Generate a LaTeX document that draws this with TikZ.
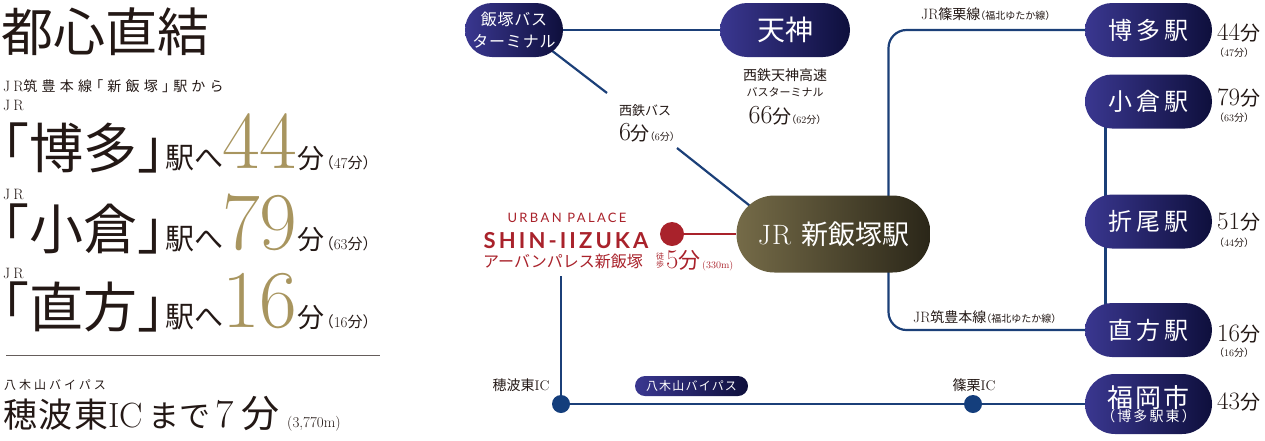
\documentclass[tikz,border=0pt]{standalone}
\usepackage{fontspec}
\newfontfamily\jp[RawFeature=+halt]{Noto Sans CJK JP}
\newfontfamily\sansf{Lato}
\usetikzlibrary{backgrounds,calc}
\newcommand\fsz[1]{\fontsize{#1}{#1}\selectfont}
\newcommand\ls[1]{\addfontfeature{LetterSpace=#1}}
\definecolor{ink}{HTML}{231815}
\definecolor{goldc}{HTML}{A8955F}
\definecolor{nvL}{HTML}{3A3790}
\definecolor{nvR}{HTML}{0E0F3C}
\definecolor{jrL}{HTML}{756B48}
\definecolor{jrR}{HTML}{2A2618}
\definecolor{lineb}{HTML}{1B3F78}
\definecolor{redc}{HTML}{A9222B}
\definecolor{dotb}{HTML}{143E7C}
\tikzset{
  tx/.style={anchor=base west, inner sep=0, text=ink},
  tb/.style={anchor=base, inner sep=0, text=ink},
  navy/.style={draw=none, rounded corners=27pt, left color=nvL, right color=nvR, text=white,
    inner sep=0, minimum height=54pt, minimum width=127pt, align=center, font=\jp},
  jrst/.style={draw=none, rounded corners=38pt, left color=jrL, right color=jrR, text=white,
    inner sep=0, minimum height=77pt, minimum width=194pt},
  bl/.style={draw=lineb, line width=2.2pt},
  dot/.style={circle, fill=dotb, inner sep=0, minimum size=18pt},
  rd/.style={inner sep=0, text=redc}
}
\begin{document}
\begin{tikzpicture}[x=1pt,y=-1pt]
\useasboundingbox (0,0) rectangle (1265,440);

% ---------- left panel ----------
\node[tx] (title) at (1,51) {\jp\fsz{52}都心直結};
\node[tx] (sub) at (3,91) {{\fsz{15}J\kern3pt R}\jp\fsz{14}\ls{30}筑豊本線「新飯塚」駅から};

\node[tx] (jra) at (3,110) {\fsz{15}J\kern3pt R};
\node[tx] (ha) at (2,168) {\jp\fsz{54}「博多」};
\node[tx] (hb) at ([xshift=1pt]ha.base east) {\jp\fsz{29}駅へ};
\node[tx,text=goldc] (hc) at (222,168) {\fsz{82}44};
\node[tx] (hd) at (hc.base east) {\jp\fsz{27}分};
\node[tx] (he) at ([xshift=1pt]hd.base east) {\jp\fsz{15}（{\rmfamily 47}分）};

\node[tx] (jrb) at (3,199) {\fsz{15}J\kern3pt R};
\node[tx] (ka) at (2,249) {\jp\fsz{54}「小倉」};
\node[tx] (kb) at ([xshift=1pt]ka.base east) {\jp\fsz{29}駅へ};
\node[tx,text=goldc] (kc) at (222,249) {\fsz{82}79};
\node[tx] (kd) at (kc.base east) {\jp\fsz{27}分};
\node[tx] (ke) at ([xshift=1pt]kd.base east) {\jp\fsz{15}（{\rmfamily 63}分）};

\node[tx] (jrc) at (3,278) {\fsz{15}J\kern3pt R};
\node[tx] (na) at (2,327) {\jp\fsz{54}「直方」};
\node[tx] (nb) at ([xshift=1pt]na.base east) {\jp\fsz{29}駅へ};
\node[tx,text=goldc] (nc) at (222,327) {\fsz{82}16};
\node[tx] (nd) at (nc.base east) {\jp\fsz{27}分};
\node[tx] (ne) at ([xshift=1pt]nd.base east) {\jp\fsz{15}（{\rmfamily 16}分）};

\draw[draw=ink!70, line width=0.8pt] (6,355) -- (380,355);

\node[tx] (yb) at (4,389) {\jp\fsz{12}\ls{25}八木山バイパス};
\node[tx] (ica) at (3,427) {\jp\fsz{34}\ls{5}穂波東};
\node[tx] (icb) at (108,427) {\fsz{35}IC};
\node[tx] (icc) at (148,427) {\jp\fsz{31}まで};
\node[tx] (icd) at (215,427) {\fsz{40}7};
\node[tx] (ice) at (241,427) {\jp\fsz{38}分};
\node[tx] (icf) at (287,427) {\fsz{15}\ls{15}(3,770m)};

% ---------- diagram nodes ----------
\node[navy, minimum width=98pt, font=\jp\fontsize{16}{22}\selectfont] (ikb) at (514,30) {\ls{5}飯塚バス\\\ls{5}ターミナル};
\node[navy, minimum width=130pt] (tenjin) at (785,30) {\fsz{28}天神};

\node[jrst] (jr) at (833.5,234) {{\fsz{28}J\kern1pt R}\hspace{10pt}{\jp\fsz{27}新飯塚駅}};

\node[navy] (hakata) at (1148.5,30) {\fsz{24}\ls{15}博多駅};
\node[navy] (kokura) at (1148.5,101.5) {\fsz{24}\ls{15}小倉駅};
\node[navy] (orio) at (1148.5,221.5) {\fsz{24}\ls{15}折尾駅};
\node[navy] (nogata) at (1148.5,330) {\fsz{24}\ls{15}直方駅};
\node[navy, minimum height=60pt, rounded corners=30pt] (fuk) at (1148.5,404) {\fontsize{26}{26}\selectfont\ls{8}福岡市\\[-1pt]\fsz{14}\ls{15}（博多駅東）};

% times right
\node[tx] (t1) at (1217,40) {\fsz{25}44\jp\fsz{20}分};
\node[tx] (t1s) at (1219,56) {\jp\fsz{10}（{\rmfamily 47}分）};
\node[tx] (t2) at (1217,105) {\fsz{25}79\jp\fsz{20}分};
\node[tx] (t2s) at (1219,121) {\jp\fsz{10}（{\rmfamily 63}分）};
\node[tx] (t3) at (1217,229) {\fsz{25}51\jp\fsz{20}分};
\node[tx] (t3s) at (1219,246) {\jp\fsz{10}（{\rmfamily 44}分）};
\node[tx] (t4) at (1217,341) {\fsz{25}16\jp\fsz{20}分};
\node[tx] (t4s) at (1219,356) {\jp\fsz{10}（{\rmfamily 16}分）};
\node[tx] (t5) at (1217,409) {\fsz{25}43\jp\fsz{20}分};

% bus labels
\node[tb] (sba) at (645,115) {\jp\fsz{13}西鉄バス};
\node[tb] (sbb) at (647,140) {{\fsz{26}6}{\jp\fsz{19}分}{\jp\fsz{10}（{\rmfamily 6}分）}};
\node[tb] (tja) at (785,80) {\jp\fsz{14}西鉄天神高速};
\node[tb] (tjb) at (785,96) {\jp\fsz{11}バスターミナル};
\node[tb] (tjc) at (785,123) {{\fsz{26}66}{\jp\fsz{19}分}{\jp\fsz{10}（{\rmfamily 62}分）}};

% property
\node[rd, anchor=base] (upa) at (567,222) {\sansf\fsz{13}\ls{18}URBAN PALACE};
\node[rd, anchor=base] (upb) at (566,248) {\sansf\bfseries\fsz{22}\ls{14}SHIN-IIZUKA};
\node[rd, anchor=base west] (upc) at (483,267) {\jp\fsz{16}アーバンパレス新飯塚};
\node[rd] (upd) at (660,256) {\jp\fsz{8}徒};
\node[rd] (upe) at (660,264) {\jp\fsz{8}歩};
\node[rd, anchor=base west] (upf) at (666,268) {{\fsz{27}5}{\jp\fsz{22}分}};
\node[rd, anchor=base west] (upg) at (702,268) {\fsz{10}(330m)};
\node[circle, fill=redc, inner sep=0, minimum size=24pt] (rc) at (672,234) {};

% road
\coordinate (ap) at (561,276);
\node[dot] (hob) at (561,404) {};
\node[dot] (sasa) at (973,404) {};
\node[tb] (hobl) at (521,390) {\jp\fsz{14}穂波東{\rmfamily IC}};
\node[tb] (sasal) at (974,390) {\jp\fsz{14}篠栗{\rmfamily IC}};
\node[navy, minimum width=113pt, minimum height=20pt, rounded corners=10pt] (ybp) at (691.5,386) {\fsz{12}\ls{10}八木山バイパス};

% JR labels
\node[tx] (la) at (921,19) {{\fsz{15}JR}\jp\fsz{14}篠栗線\fsz{10}（福北ゆたか線）};
\node[tx] (lb) at (913,322) {{\fsz{15}JR}\jp\fsz{14}筑豊本線\fsz{10}（福北ゆたか線）};

% ---------- connectors ----------
\coordinate (ga) at (607,93);
\coordinate (gb) at (677,148);
\begin{pgfonlayer}{background}
\draw[bl] (ikb) -- (tenjin);
\draw[bl] ($(ikb.center)+(11,0)$) -- (ga);
\draw[bl] (gb) -- ($(jr.center)+(-48,0)$);
\draw[bl, rounded corners=18pt] ($(jr.center)+(55,0)$) |- (hakata);
\draw[bl, rounded corners=18pt] ($(jr.center)+(55,0)$) |- (nogata);
\draw[bl] ($(kokura.center)+(-43,0)$) -- ($(nogata.center)+(-43,0)$);
\draw[bl] (ap) -- (hob);
\draw[bl] (hob) -- (sasa) -- (fuk);
\draw[draw=redc, line width=2pt] (rc) -- (jr);
\end{pgfonlayer}
\end{tikzpicture}
\end{document}
